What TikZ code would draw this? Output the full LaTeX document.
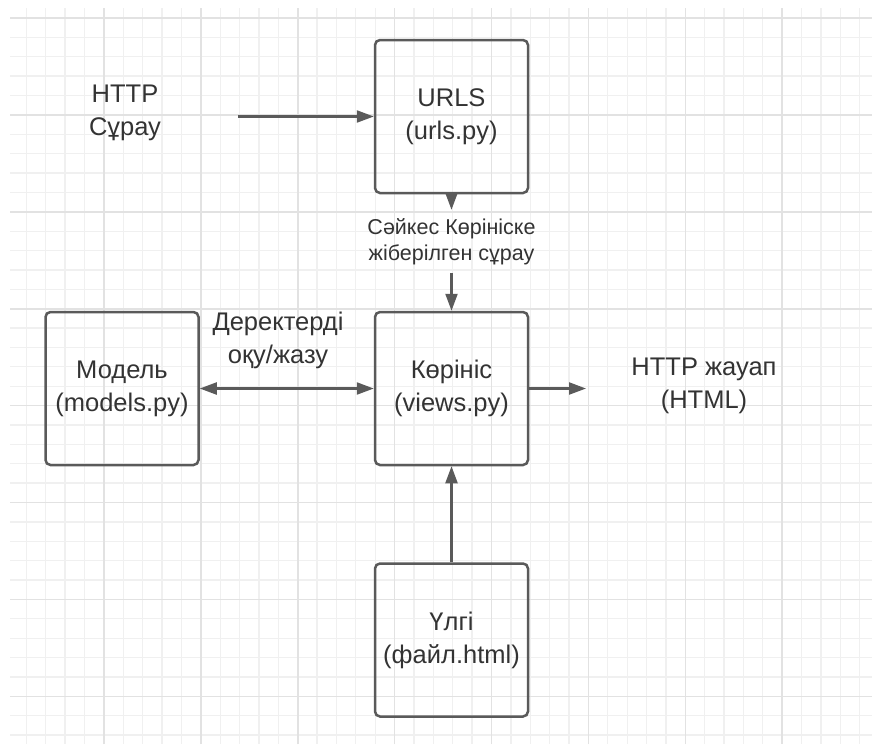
\documentclass[tikz,border=0pt]{standalone}
\usepackage{fontspec}
\setmainfont{Liberation Sans}
\usetikzlibrary{arrows.meta}
\definecolor{edgegray}{HTML}{5A5A5A}
\definecolor{txtgray}{HTML}{333333}
\definecolor{gridminor}{HTML}{F0F0F0}
\definecolor{gridmajor}{HTML}{E2E2E2}
\tikzset{
    box/.style={draw=edgegray, line width=2.5pt, rounded corners=5pt, minimum width=153pt, minimum height=153pt, align=center, text=txtgray, font=\fontsize{25.5}{33}\selectfont},
    txt/.style={align=center, text=txtgray, font=\fontsize{25.5}{33}\selectfont},
    conn/.style={draw=edgegray, line width=2.2pt, -{Triangle[length=17pt,width=12pt]}}
}
\begin{document}
\begin{tikzpicture}[x=1pt,y=-1pt]
    \useasboundingbox (0,0) rectangle (872,744);
    % grid
    \begin{scope}[shift={(7,18)}]
        \draw[gridminor, line width=1.3pt, step=19.38pt] (3,-10) grid (865,726);
        \draw[gridmajor, line width=1.6pt, step=96.9pt] (3,-10) grid (865,726);
    \end{scope}

    \begin{scope}[every node/.style={box}]
        \node (urls) at (451.5,116.5) {URLS\\(urls.py)};
        \node (model) at (122,388.5) {Модель\\(models.py)};
        \node (view) at (451.5,388.5) {Көрініс\\(views.py)};
        \node (tmpl) at (451.5,640) {Үлгі\\(файл.html)};
    \end{scope}

    \node[txt] (req) at (125,113) {HTTP\\Сұрау};
    \node[txt] (resp) at (704,386) {HTTP жауап\\(HTML)};
    \node[txt] (rw) at (278,340) {Деректерді\\оқу/жазу};
    \node[txt, font=\fontsize{21.5}{26}\selectfont, minimum height=63pt, inner sep=0pt] (sel) at (451.5,241.5) {Сәйкес Көрініске\\жіберілген сұрау};
    \coordinate (reqend) at (238,116.5);
    \coordinate (respend) at (586,388.5);

    \begin{scope}[every edge/.style={conn}]
        \path (reqend) edge (urls);
        \path (urls) edge (sel);
        \path (sel) edge (view);
        \path (tmpl) edge (view);
        \path (view) edge (respend);
        \path (model) edge[{Triangle[length=17pt,width=12pt]}-{Triangle[length=17pt,width=12pt]}] (view);
    \end{scope}
\end{tikzpicture}
\end{document}
